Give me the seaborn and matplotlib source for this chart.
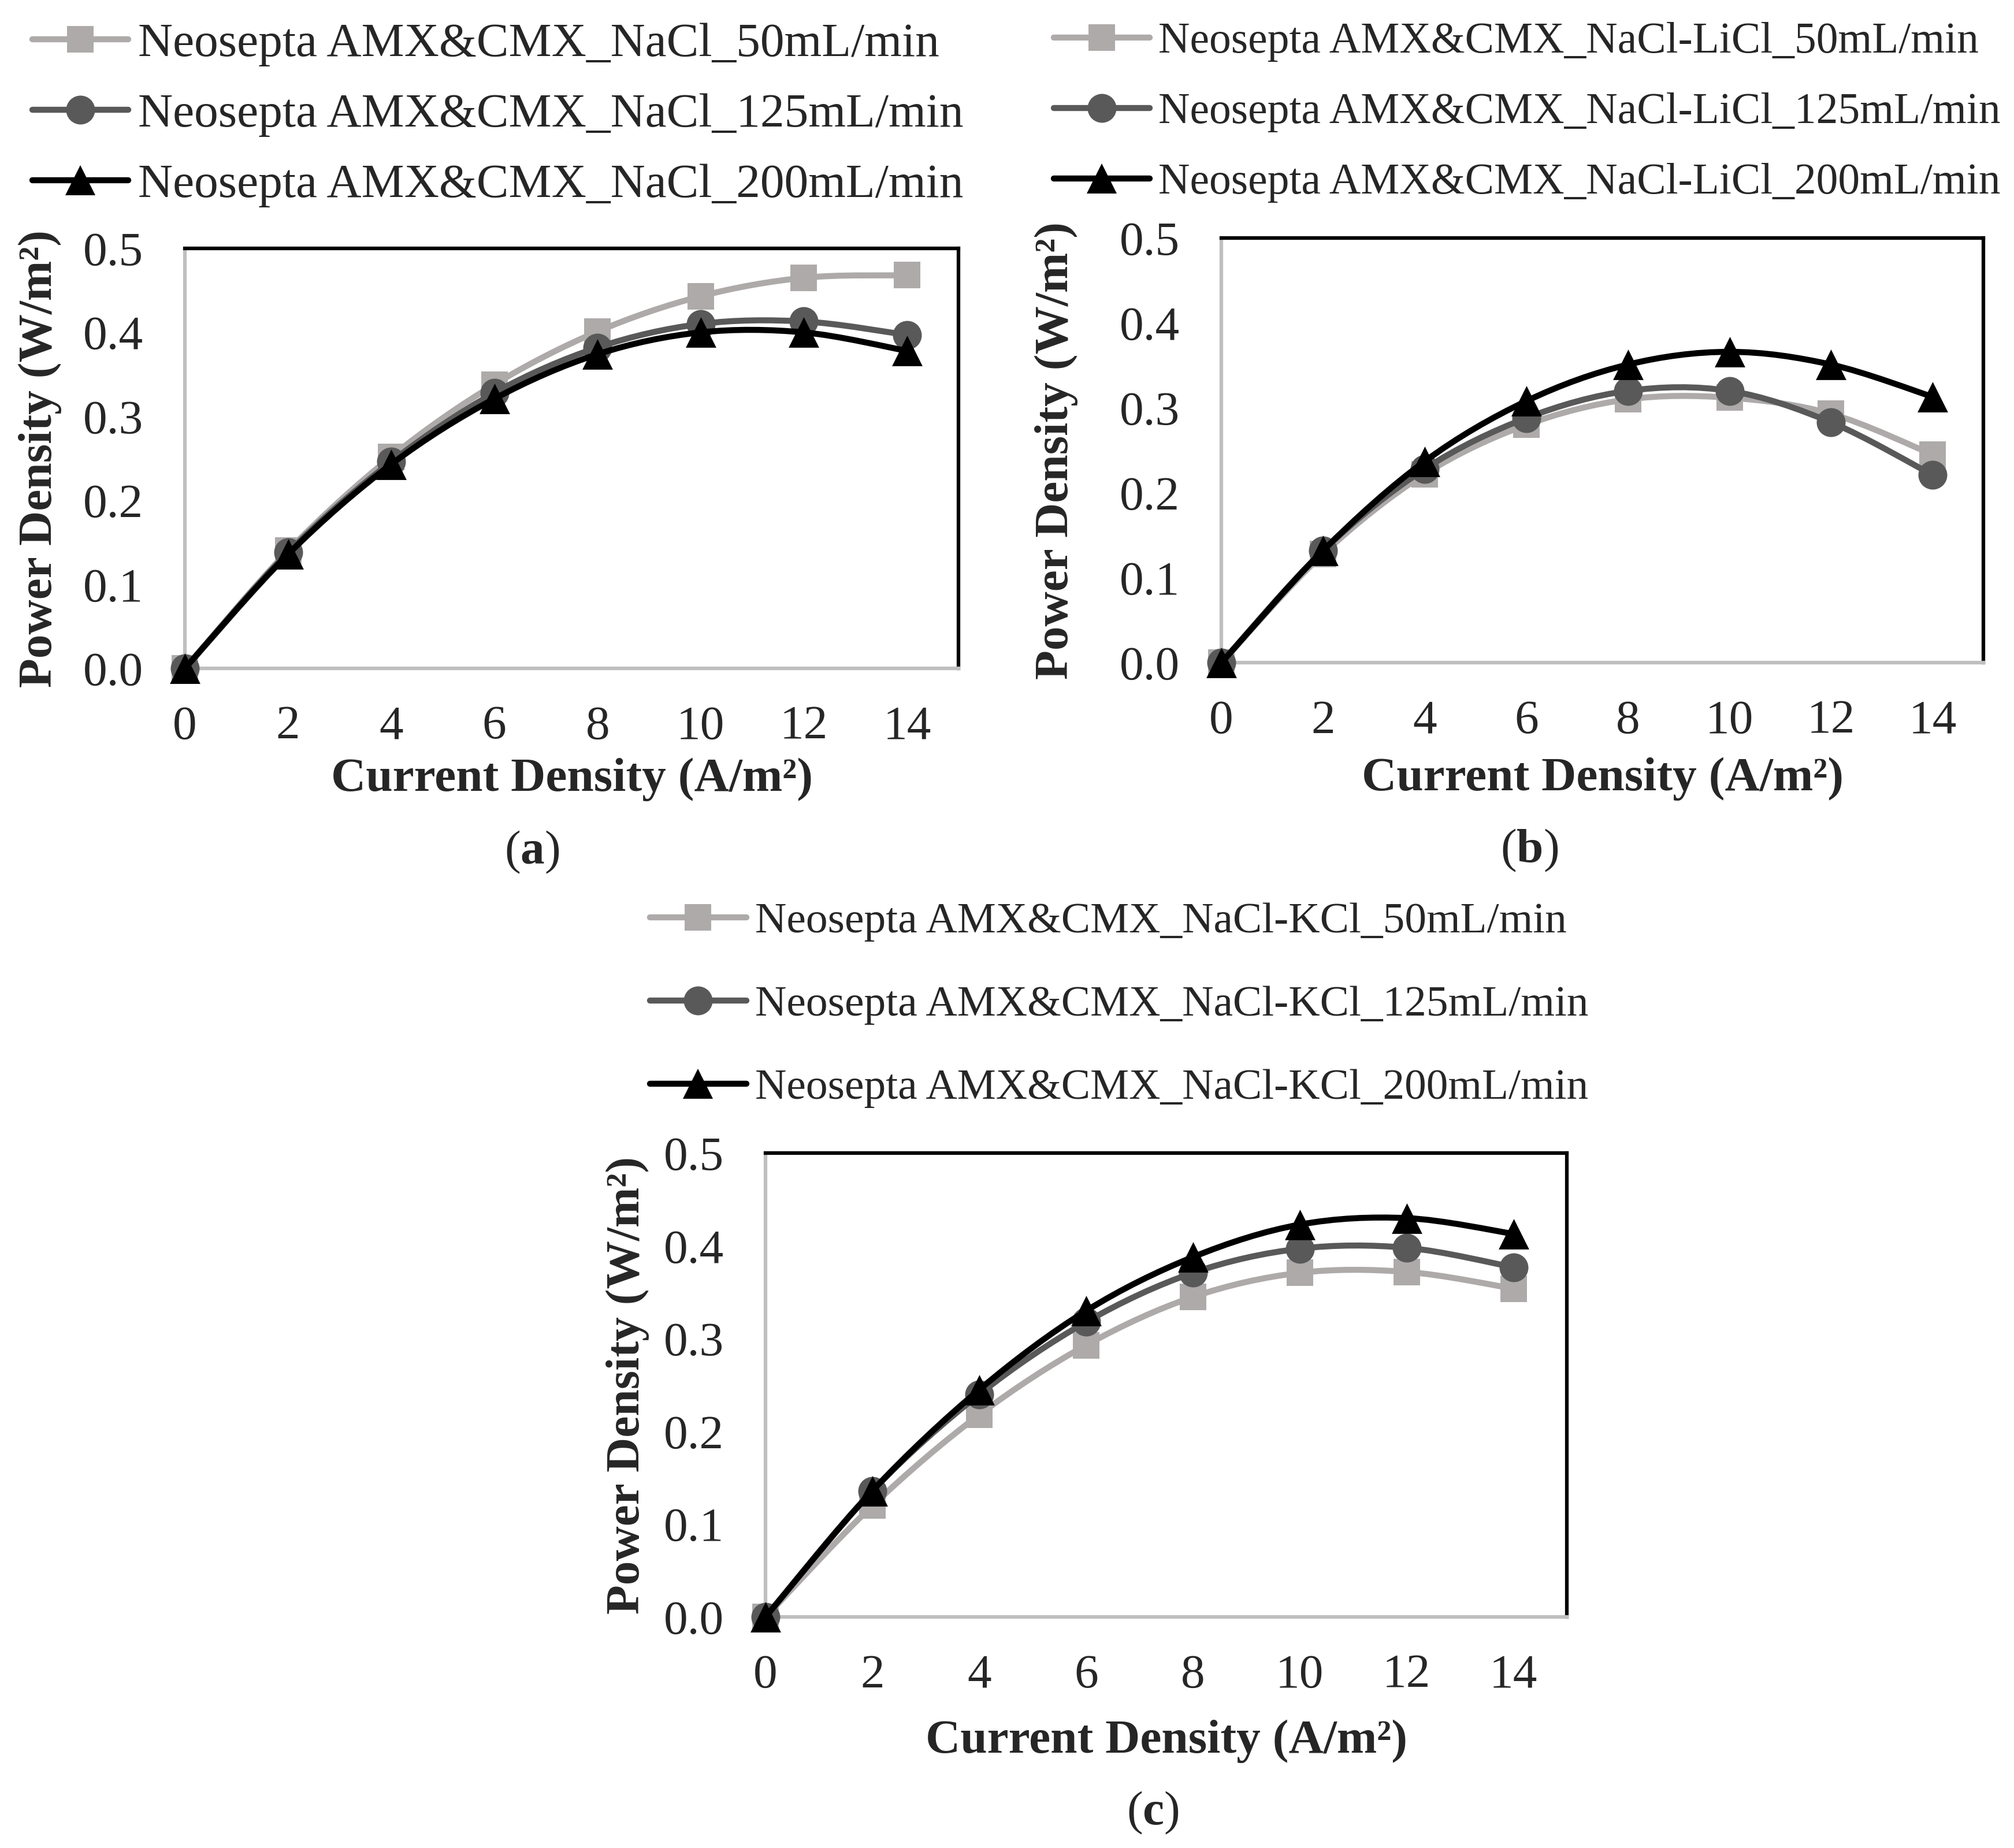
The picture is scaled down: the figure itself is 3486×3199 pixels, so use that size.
import numpy as np
import pandas as pd
import seaborn as sns
import matplotlib.pyplot as plt
from matplotlib.path import Path
from matplotlib.patches import PathPatch
from matplotlib.lines import Line2D
from matplotlib.ticker import FormatStrFormatter, MultipleLocator

current = [0, 2, 4, 6, 8, 10, 12, 14]
flows = ['50mL/min', '125mL/min', '200mL/min']

# (a) NaCl
a_50 = [0, 0.140, 0.252, 0.338, 0.401, 0.443, 0.465, 0.468]
a_125 = [0, 0.138, 0.246, 0.328, 0.382, 0.410, 0.413, 0.397]
a_200 = [0, 0.136, 0.243, 0.321, 0.374, 0.400, 0.400, 0.378]

# (b) NaCl-LiCl
b_50 = [0, 0.128, 0.222, 0.280, 0.310, 0.312, 0.293, 0.245]
b_125 = [0, 0.132, 0.228, 0.288, 0.320, 0.320, 0.283, 0.221]
b_200 = [0, 0.132, 0.237, 0.308, 0.351, 0.366, 0.351, 0.313]

# (c) NaCl-KCl
c_50 = [0, 0.120, 0.218, 0.293, 0.345, 0.371, 0.372, 0.354]
c_125 = [0, 0.136, 0.240, 0.318, 0.371, 0.397, 0.398, 0.377]
c_200 = [0, 0.136, 0.245, 0.330, 0.388, 0.423, 0.430, 0.413]

colors = ['#aeaaaa', '#595959', '#000000']
markers = ['s', 'o', '^']
msizes = [33, 36, 38]
FS = 60
LW = 7.5

sns.set_style('white')
plt.rcParams['font.family'] = ['Liberation Serif', 'DejaVu Serif']
plt.rcParams['mathtext.fontset'] = 'custom'
plt.rcParams['mathtext.rm'] = 'Liberation Serif'
plt.rcParams['mathtext.bf'] = 'Liberation Serif:bold'


def smooth_path(xs, ys):
    # Excel-like smoothed line: cubic bezier through the data points
    pts = np.column_stack([xs, ys]).astype(float)
    ext = np.vstack([pts[0], pts, pts[-1]])
    verts = [pts[0]]
    codes = [Path.MOVETO]
    for i in range(len(pts) - 1):
        p0, p1, p2, p3 = ext[i], ext[i + 1], ext[i + 2], ext[i + 3]
        verts += [p1 + (p2 - p0) / 6, p2 - (p3 - p1) / 6, p2]
        codes += [Path.CURVE4] * 3
    return Path(verts, codes)


def draw_panel(ax, series, salt, legend_xy, leg_fs, leg_space, xlab_y, ylab_x):
    for i, vals in enumerate(series):
        df = pd.DataFrame({'current': current, 'power': vals})
        ax.add_patch(PathPatch(smooth_path(current, vals), fill=False,
                               edgecolor=colors[i], lw=LW, capstyle='round',
                               joinstyle='round', zorder=3 + i, clip_on=False))
        sns.scatterplot(data=df, x='current', y='power', marker=markers[i],
                        s=msizes[i] ** 2, color=colors[i], linewidth=0,
                        ax=ax, zorder=3.5 + i, legend=False, clip_on=False)

    ax.set_xlim(0, 15)
    ax.set_ylim(0, 0.5)
    ax.set_xticks(current)
    ax.yaxis.set_major_locator(MultipleLocator(0.1))
    ax.yaxis.set_major_formatter(FormatStrFormatter('%.1f'))
    ax.tick_params(axis='x', length=0, pad=46, labelsize=FS)
    ax.tick_params(axis='y', length=0, pad=52, labelsize=FS)

    for side in ['left', 'bottom']:
        ax.spines[side].set_color('#bfbfbf')
        ax.spines[side].set_linewidth(4.5)
    for side in ['top', 'right']:
        ax.spines[side].set_color('black')
        ax.spines[side].set_linewidth(4.5)

    ax.set_xlabel('Current Density (A/m²)', fontsize=FS, fontweight='bold')
    ax.set_ylabel('Power Density (W/m²)', fontsize=FS, fontweight='bold')
    ax.xaxis.set_label_coords(0.5, xlab_y)
    ax.xaxis.label.set_va('center')
    ax.yaxis.set_label_coords(ylab_x, 0.5)
    ax.yaxis.label.set_va('center')

    handles = [Line2D([], [], color=colors[i], lw=LW, marker=markers[i],
                      markersize=msizes[i], markeredgewidth=0,
                      solid_capstyle='round') for i in range(3)]
    labels = [f'Neosepta AMX&CMX_{salt}_{f}' for f in flows]
    fig.legend(handles, labels, loc='upper left', bbox_to_anchor=legend_xy,
               bbox_transform=fig.transFigure, frameon=False, fontsize=leg_fs,
               handlelength=120 / leg_fs, handletextpad=0.2,
               labelspacing=leg_space, borderpad=0, borderaxespad=0)


fig = plt.figure(figsize=(34.87, 31.99), dpi=100)
ax_a = fig.add_axes([0.0918, 0.6383, 0.3840, 0.2273])
ax_b = fig.add_axes([0.6063, 0.6414, 0.3783, 0.2298])
ax_c = fig.add_axes([0.3800, 0.1250, 0.3978, 0.2510])

draw_panel(ax_a, [a_50, a_125, a_200], 'NaCl', (0.016, 0.988), 60, 0.55, -0.265, -0.187)
draw_panel(ax_b, [b_50, b_125, b_200], 'NaCl-LiCl', (0.523, 0.988), 54.4, 0.70, -0.273, -0.217)
draw_panel(ax_c, [c_50, c_125, c_200], 'NaCl-KCl', (0.3226, 0.512), 54.3, 1.0, -0.268, -0.172)

for lab, x, y in [('a', 921, 1475), ('b', 2647, 1472), ('c', 1995, 3138)]:
    fig.text(x / 3487, 1 - y / 3199, '(' + r'$\mathbf{' + lab + '}$' + ')',
             fontsize=FS, ha='center', va='center')

fig.savefig('out.png', dpi=100)
